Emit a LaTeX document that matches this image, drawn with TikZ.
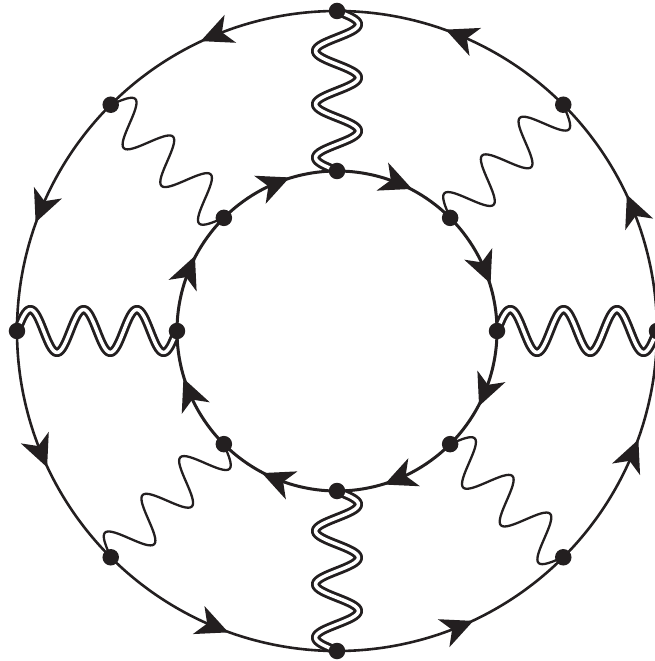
\documentclass[tikz,border=0pt]{standalone}
\usetikzlibrary{arrows.meta,decorations,decorations.markings,backgrounds}
\definecolor{ink}{HTML}{231F20}
\pgfdeclaredecoration{fullwave}{period}{
  \state{period}[switch if less than=\pgfdecorationsegmentlength to final,
                 width=\pgfdecorationsegmentlength]{
    \pgfpathcurveto
      {\pgfpoint{0.0815*\pgfdecorationsegmentlength}{0.5123*\pgfdecorationsegmentamplitude}}
      {\pgfpoint{0.1595*\pgfdecorationsegmentlength}{\pgfdecorationsegmentamplitude}}
      {\pgfpoint{0.25*\pgfdecorationsegmentlength}{\pgfdecorationsegmentamplitude}}
    \pgfpathcurveto
      {\pgfpoint{0.3405*\pgfdecorationsegmentlength}{\pgfdecorationsegmentamplitude}}
      {\pgfpoint{0.4185*\pgfdecorationsegmentlength}{0.5123*\pgfdecorationsegmentamplitude}}
      {\pgfpoint{0.5*\pgfdecorationsegmentlength}{0pt}}
    \pgfpathcurveto
      {\pgfpoint{0.5815*\pgfdecorationsegmentlength}{-0.5123*\pgfdecorationsegmentamplitude}}
      {\pgfpoint{0.6595*\pgfdecorationsegmentlength}{-\pgfdecorationsegmentamplitude}}
      {\pgfpoint{0.75*\pgfdecorationsegmentlength}{-\pgfdecorationsegmentamplitude}}
    \pgfpathcurveto
      {\pgfpoint{0.8405*\pgfdecorationsegmentlength}{-\pgfdecorationsegmentamplitude}}
      {\pgfpoint{0.9185*\pgfdecorationsegmentlength}{-0.5123*\pgfdecorationsegmentamplitude}}
      {\pgfpoint{\pgfdecorationsegmentlength}{0pt}}
  }
  \state{final}{\pgfpathlineto{\pgfpointdecoratedpathlast}}
}
\tikzset{
  x=1pt,y=1pt,
  vertexdot/.style={circle,fill=ink,draw=none,minimum size=16.5pt,inner sep=0pt},
  wavepath/.style={decorate,decoration={fullwave,amplitude=21.5pt,segment length=53.3pt}},
  thinwave/.style={wavepath,draw=ink,line width=2.3pt,line cap=round,line join=round},
  doublewave/.style={wavepath,draw=ink,line width=2.9pt,double=white,double distance=3.5pt,line join=round},
  arrowed/.style={postaction={decorate,decoration={markings,
    mark=at position 0.5 with {\arrow[xshift=15pt,ink]{Stealth[length=32pt,width=30pt,inset=9pt]}}}}},
  outerline/.style={arrowed,draw=ink,line width=2.6pt},
  innerline/.style={arrowed,draw=ink,line width=3pt},
}
\begin{document}
\begin{tikzpicture}
\useasboundingbox (-337,-330) rectangle (318,331);
\foreach \n/\a in {1/0,2/45,3/90,4/135,5/180,6/225,7/270,8/315}{
  \node[vertexdot] (o\n) at (\a:320) {};
  \node[vertexdot] (i\n) at (\a:160) {};
}
\begin{scope}[on background layer]
  \foreach \n/\a in {1/0,2/45,3/90,4/135,5/180,6/225,7/270,8/315}{
    \draw[outerline] (o\n.center) arc[start angle=\a,delta angle=45,radius=320];
    \draw[innerline] (i\n.center) arc[start angle=\a,delta angle=-45,radius=160];
  }
  \draw[doublewave] (o5.center) -- (i5.center);
  \draw[doublewave] (i1.center) -- (o1.center);
  \draw[doublewave] (o3.center) -- (i3.center);
  \draw[doublewave] (i7.center) -- (o7.center);
  \draw[thinwave] (o4.center) -- (i4.center);
  \draw[thinwave] (i2.center) -- (o2.center);
  \draw[thinwave] (i8.center) -- (o8.center);
  \draw[thinwave] (o6.center) -- (i6.center);
\end{scope}
\end{tikzpicture}
\end{document}
